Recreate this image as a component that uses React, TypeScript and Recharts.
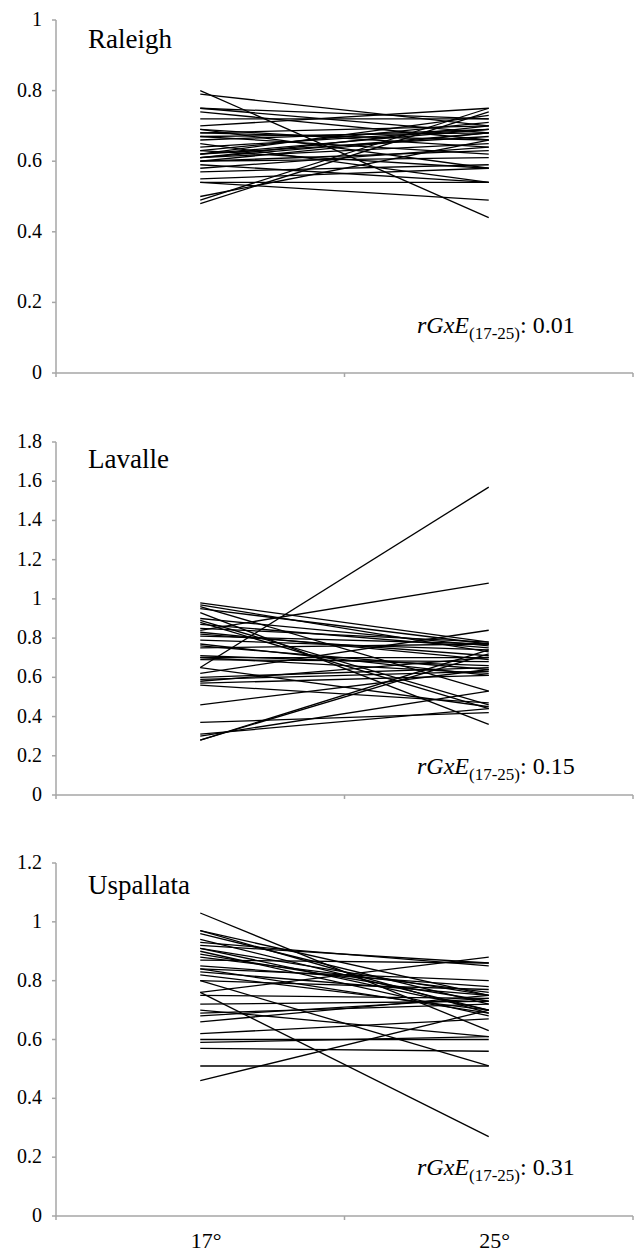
import React from 'react';
import { LineChart, Line, XAxis, YAxis } from 'recharts';

const TEMPS = ['17°', '25°'];

const raleigh17 = [0.80, 0.79, 0.75, 0.75, 0.74, 0.72, 0.70, 0.69, 0.69, 0.68, 0.68, 0.67, 0.66, 0.65, 0.64, 0.63, 0.62, 0.62, 0.61, 0.61, 0.60, 0.60, 0.62, 0.59, 0.58, 0.57, 0.55, 0.54, 0.54, 0.49, 0.48, 0.50, 0.60, 0.63, 0.67, 0.61];
const raleigh25 = [0.44, 0.70, 0.72, 0.68, 0.66, 0.72, 0.75, 0.64, 0.58, 0.70, 0.66, 0.62, 0.69, 0.54, 0.69, 0.71, 0.73, 0.67, 0.65, 0.68, 0.63, 0.61, 0.69, 0.54, 0.64, 0.59, 0.58, 0.49, 0.54, 0.75, 0.74, 0.66, 0.68, 0.58, 0.68, 0.70];

const lavalle17 = [0.65, 0.84, 0.28, 0.28, 0.30, 0.37, 0.31, 0.46, 0.58, 0.60, 0.56, 0.65, 0.70, 0.70, 0.71, 0.75, 0.77, 0.79, 0.62, 0.81, 0.82, 0.85, 0.87, 0.88, 0.89, 0.93, 0.95, 0.97, 0.98, 0.96, 0.59, 0.57, 0.83, 0.76, 0.69, 0.90];
const lavalle25 = [1.57, 1.08, 0.74, 0.72, 0.53, 0.42, 0.44, 0.64, 0.70, 0.65, 0.47, 0.45, 0.70, 0.62, 0.66, 0.77, 0.61, 0.74, 0.84, 0.77, 0.71, 0.78, 0.75, 0.44, 0.46, 0.36, 0.77, 0.73, 0.78, 0.53, 0.63, 0.61, 0.69, 0.64, 0.68, 0.76];

const uspallata17 = [1.03, 0.97, 0.97, 0.96, 0.94, 0.92, 0.91, 0.90, 0.89, 0.88, 0.87, 0.84, 0.84, 0.83, 0.82, 0.80, 0.80, 0.76, 0.76, 0.75, 0.72, 0.70, 0.69, 0.68, 0.66, 0.62, 0.59, 0.57, 0.51, 0.46, 0.93, 0.85, 0.91, 0.60];
const uspallata25 = [0.63, 0.75, 0.69, 0.72, 0.70, 0.86, 0.75, 0.68, 0.73, 0.76, 0.86, 0.80, 0.69, 0.75, 0.70, 0.51, 0.77, 0.27, 0.88, 0.74, 0.73, 0.61, 0.72, 0.74, 0.75, 0.67, 0.61, 0.56, 0.51, 0.70, 0.85, 0.78, 0.70, 0.60];

const raleighTicks = [0, 0.2, 0.4, 0.6, 0.8, 1];
const lavalleTicks = [0, 0.2, 0.4, 0.6, 0.8, 1, 1.2, 1.4, 1.6, 1.8];
const uspallataTicks = [0, 0.2, 0.4, 0.6, 0.8, 1, 1.2];

const rGxE = ['0.01', '0.15', '0.31'];

const FONT = 'Liberation Serif';
const AXIS = '#a6a6a6';

function buildRows(start: number[], end: number[]) {
  return TEMPS.map((t, i) => {
    const row: Record<string, number | string> = { temp: t, pos: i + 0.5 };
    (i === 0 ? start : end).forEach((v, j) => {
      row['g' + j] = v;
    });
    return row;
  });
}

const XTick = (props: any) => {
  const { x, y, payload, showLabels } = props;
  const v = payload.value;
  if (Number.isInteger(v)) {
    return <line x1={x} x2={x} y1={y} y2={y + 4} stroke={AXIS} strokeWidth={1.5} />;
  }
  if (!showLabels) return null;
  return (
    <text x={x + 6} y={y + 32} textAnchor="middle" fontFamily={FONT} fontSize={22} fill="#000">
      {TEMPS[Math.floor(v)]}
    </text>
  );
};

const YTick = (props: any) => {
  const { x, y, payload } = props;
  return (
    <text x={x} y={y} dy={6} textAnchor="end" fontFamily={FONT} fontSize={20} fill="#000">
      {String(+Number(payload.value).toFixed(1))}
    </text>
  );
};

function Panel({ start, end, ticks, height, bottom, xHeight, showLabels }: any) {
  const data = buildRows(start, end);
  const top = ticks[ticks.length - 1];
  return (
    <LineChart width={636} height={height} data={data} margin={{ top: 20, right: 3, left: 0, bottom }}>
      <XAxis
        type="number"
        dataKey="pos"
        domain={[0, 2]}
        ticks={[0, 0.5, 1, 1.5, 2]}
        interval={0}
        tickLine={false}
        tickSize={0}
        tickMargin={0}
        height={xHeight}
        axisLine={{ stroke: AXIS, strokeWidth: 1.5 }}
        tick={<XTick showLabels={showLabels} />}
      />
      <YAxis
        type="number"
        domain={[0, top]}
        ticks={ticks}
        interval={0}
        width={56}
        tickSize={4}
        tickMargin={10}
        axisLine={{ stroke: AXIS, strokeWidth: 1.5 }}
        tickLine={{ stroke: AXIS, strokeWidth: 1.5 }}
        tick={<YTick />}
      />
      {start.map((_: number, j: number) => (
        <Line
          key={j}
          type="linear"
          dataKey={'g' + j}
          stroke="#000"
          strokeWidth={1.3}
          dot={false}
          activeDot={false}
          isAnimationActive={false}
        />
      ))}
    </LineChart>
  );
}

function Note({ x, y, value }: { x: number; y: number; value: string }) {
  return (
    <text x={x} y={y} fontFamily={FONT} fontSize={24} fill="#000">
      <tspan fontStyle="italic">rGxE</tspan>
      <tspan fontSize={17} dy={6}>(17-25)</tspan>
      <tspan dy={-6}>: {value}</tspan>
    </text>
  );
}

export default function App() {
  return (
    <div style={{ position: 'absolute', left: 0, top: 0, width: 636, height: 1255, background: '#fff' }}>
      <div style={{ position: 'absolute', left: 0, top: 0 }}>
        <Panel start={raleigh17} end={raleigh25} ticks={raleighTicks} height={422} bottom={19} xHeight={30} showLabels={false} />
      </div>
      <div style={{ position: 'absolute', left: 0, top: 422 }}>
        <Panel start={lavalle17} end={lavalle25} ticks={lavalleTicks} height={421} bottom={18} xHeight={30} showLabels={false} />
      </div>
      <div style={{ position: 'absolute', left: 0, top: 843 }}>
        <Panel start={uspallata17} end={uspallata25} ticks={uspallataTicks} height={412} bottom={0} xHeight={39} showLabels={true} />
      </div>
      <svg width={636} height={1255} style={{ position: 'absolute', left: 0, top: 0, pointerEvents: 'none' }}>
        <text x={88} y={48} fontFamily={FONT} fontSize={27} fill="#000">Raleigh</text>
        <text x={88} y={468} fontFamily={FONT} fontSize={27} fill="#000">Lavalle</text>
        <text x={88} y={894} fontFamily={FONT} fontSize={27} fill="#000">Uspallata</text>
        <Note x={417} y={333} value={rGxE[0]} />
        <Note x={417} y={774} value={rGxE[1]} />
        <Note x={417} y={1175} value={rGxE[2]} />
      </svg>
    </div>
  );
}
